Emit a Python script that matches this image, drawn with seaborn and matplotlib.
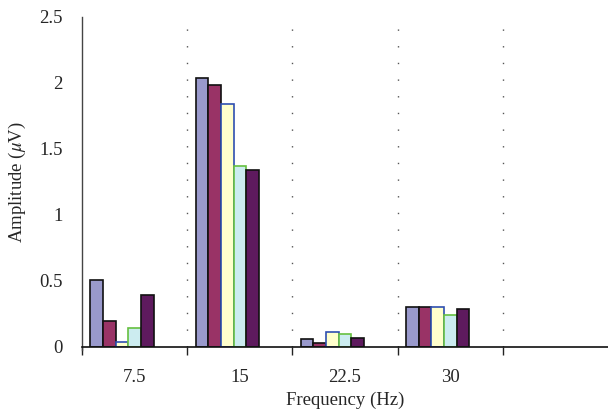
import numpy as np
import pandas as pd
import matplotlib
matplotlib.use('Agg')
import matplotlib.pyplot as plt
import seaborn as sns

# values
freqs = ['7.5', '15', '22.5', '30', '']
series = ['s1', 's2', 's3', 's4', 's5']
s1 = [0.51, 2.04, 0.06, 0.30]
s2 = [0.20, 1.98, 0.03, 0.30]
s3 = [0.04, 1.84, 0.11, 0.30]
s4 = [0.14, 1.37, 0.10, 0.24]
s5 = [0.39, 1.34, 0.07, 0.29]

face_colors = ['#9999cc', '#993366', '#ffffcc', '#ccecf0', '#5e1a5e']
edge_colors = ['#111111', '#111111', '#2f4fb0', '#66c040', '#111111']

rows = []
for name, vals in zip(series, [s1, s2, s3, s4, s5]):
    for f, v in zip(freqs[:4], vals):
        rows.append({'freq': f, 'series': name, 'amp': v})
df = pd.DataFrame(rows)

sns.set_style('white')
plt.rcParams['font.family'] = ['Liberation Serif', 'DejaVu Serif']
plt.rcParams['mathtext.fontset'] = 'stix'

fig = plt.figure(figsize=(6.08, 4.2), dpi=100)
ax = fig.add_axes([0.135, 0.174, 0.865, 0.786])

sns.barplot(data=df, x='freq', y='amp', hue='series', order=freqs,
            hue_order=series, palette=face_colors, width=0.6,
            saturation=1, legend=False, ax=ax)
for cont, ec in zip(ax.containers, edge_colors):
    for bar in cont:
        bar.set_edgecolor(ec)
        bar.set_linewidth(1.2)

ax.set_ylim(0, 2.5)
ax.set_xlim(-0.38, 4.62)
ax.set_yticks(np.arange(0, 2.51, 0.5))
ax.set_yticklabels(['0', '0.5', '1', '1.5', '2', '2.5'], fontsize=13.5)

# category labels at cell centres, ticks at cell boundaries
centers = np.arange(4) + 0.12
ax.set_xticks(centers)
ax.set_xticklabels(freqs[:4], fontsize=13.5)
ax.set_xticks(np.arange(5) - 0.38, minor=True)
ax.tick_params(axis='x', which='major', length=0, pad=16)
ax.tick_params(axis='x', which='minor', direction='out', length=6, width=1, color='#222222', bottom=True)
ax.tick_params(axis='y', length=0, pad=14)

for b in np.arange(4) + 0.62:
    ax.axvline(b, ymin=0, ymax=1, color='#555555', lw=1.0, ls=(0, (1, 11)))

for s in ['top', 'right']:
    ax.spines[s].set_visible(False)
ax.spines['bottom'].set_color('#111111')
ax.spines['bottom'].set_linewidth(1.2)
ax.spines['left'].set_color('#444444')
ax.spines['left'].set_linewidth(1.0)
ax.spines['left'].set_bounds(-0.02, 2.5)

ax.set_xlabel('Frequency (Hz)', fontsize=13.5, labelpad=4)
ax.set_ylabel(r'Amplitude ($\mu$V)', fontsize=13.5, labelpad=8)

fig.savefig('out.png', dpi=100)
